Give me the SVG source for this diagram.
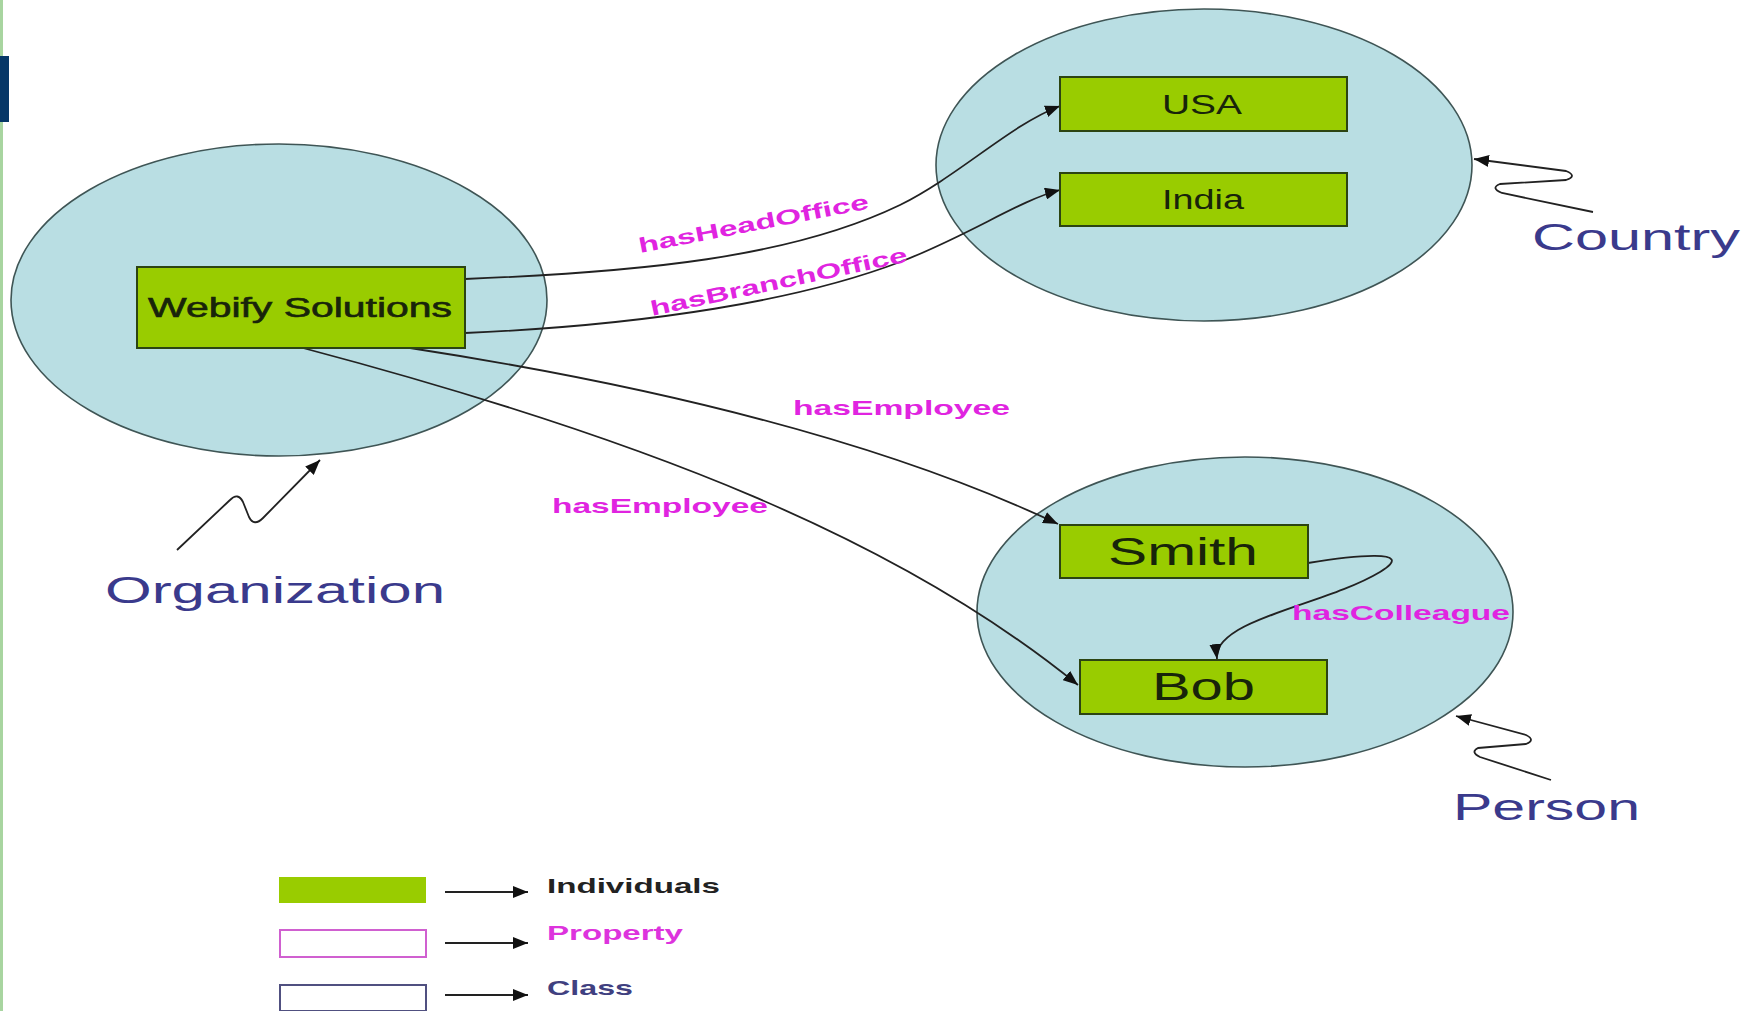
<svg xmlns="http://www.w3.org/2000/svg" width="1750" height="1011" viewBox="0 0 1750 1011">
<defs>
<style>
.cls{fill:#b9dee3;stroke:#3f5555;stroke-width:1.6}
.ind{fill:#99cc00;stroke:#2c4412;stroke-width:2}
.indt{font-family:"Liberation Sans",Arial,sans-serif;fill:#18240a}
.clst{font-family:"Liberation Sans",Arial,sans-serif;fill:#3a3a8c}
.prop{font-family:"Liberation Sans",Arial,sans-serif;font-weight:bold;font-size:21px;fill:#e024e0}
.edge{fill:none;stroke:#222;stroke-width:1.8}
.sq{fill:none;stroke:#222;stroke-width:1.8}
</style>
<marker id="ah" markerUnits="userSpaceOnUse" markerWidth="16" markerHeight="12" refX="15" refY="6" orient="auto">
<path d="M0,0 L15,6 L0,12 Z" fill="#111"/>
</marker>
</defs>
<rect x="0" y="0" width="1750" height="1011" fill="#ffffff"/>
<rect x="0" y="0" width="3" height="1011" fill="#a8d5a0"/>
<rect x="0" y="56" width="9" height="66" fill="#063767"/>

<g id="organization">
<ellipse class="cls" cx="279" cy="300" rx="268" ry="156"/>
<path class="sq" d="M177,550 L230,500 Q238,492 243,502 L249,517 Q254,527 263,518 L320,460" marker-end="url(#ah)"/>
<text class="clst" x="105" y="603" font-size="36" textLength="340" lengthAdjust="spacingAndGlyphs">Organization</text>
</g>

<g id="country">
<ellipse class="cls" cx="1204" cy="165" rx="268" ry="156"/>
<path class="sq" d="M1593,212 L1502,193 Q1490,188 1500,184 L1566,180 Q1578,176 1566,171 L1474,159" marker-end="url(#ah)"/>
<text class="clst" x="1532" y="250" font-size="37" textLength="208" lengthAdjust="spacingAndGlyphs">Country</text>
</g>

<g id="person">
<ellipse class="cls" cx="1245" cy="612" rx="268" ry="155"/>
<path class="sq" d="M1551,780 L1480,757 Q1470,752 1478,748 L1526,744 Q1536,740 1526,735 L1456,716" marker-end="url(#ah)"/>
<text class="clst" x="1453" y="820" font-size="37" textLength="187" lengthAdjust="spacingAndGlyphs">Person</text>
</g>

<g id="connectors">
<path class="edge" d="M465,279 C640,272 790,258 900,205 C960,175 1010,125 1060,106" marker-end="url(#ah)"/>
<path class="edge" d="M465,333 C650,325 800,300 900,262 C970,235 1020,200 1060,190" marker-end="url(#ah)"/>
<path class="edge" d="M410,348 C650,385 880,440 1058,524" marker-end="url(#ah)"/>
<path class="edge" d="M303,348 C650,440 900,540 1078,685" marker-end="url(#ah)"/>
<path class="edge" d="M1308,563 C1350,556 1420,548 1380,572 C1340,596 1272,610 1238,630 C1220,641 1216,650 1217,659" marker-end="url(#ah)"/>
<text class="prop" transform="translate(640,253) rotate(-11)" x="0" y="0" textLength="234" lengthAdjust="spacingAndGlyphs">hasHeadOffice</text>
<text class="prop" transform="translate(652,316) rotate(-12)" x="0" y="0" textLength="262" lengthAdjust="spacingAndGlyphs">hasBranchOffice</text>
<text class="prop" x="793" y="415" textLength="217" lengthAdjust="spacingAndGlyphs">hasEmployee</text>
<text class="prop" x="552" y="513" textLength="216" lengthAdjust="spacingAndGlyphs">hasEmployee</text>
<text class="prop" x="1292" y="620" textLength="218" lengthAdjust="spacingAndGlyphs">hasColleague</text>
</g>

<g id="webify">
<rect class="ind" x="137" y="267" width="328" height="81"/>
<text class="indt" x="148" y="317" font-size="27" textLength="304" lengthAdjust="spacingAndGlyphs" stroke="#18240a" stroke-width="0.6">Webify Solutions</text>
</g>
<g id="usa">
<rect class="ind" x="1060" y="77" width="287" height="54"/>
<text class="indt" x="1162" y="114" font-size="28" textLength="80" lengthAdjust="spacingAndGlyphs">USA</text>
</g>
<g id="india">
<rect class="ind" x="1060" y="173" width="287" height="53"/>
<text class="indt" x="1162" y="209" font-size="27" textLength="82" lengthAdjust="spacingAndGlyphs">India</text>
</g>
<g id="smith">
<rect class="ind" x="1060" y="525" width="248" height="53"/>
<text class="indt" x="1108" y="565" font-size="39" textLength="150" lengthAdjust="spacingAndGlyphs">Smith</text>
</g>
<g id="bob">
<rect class="ind" x="1080" y="660" width="247" height="54"/>
<text class="indt" x="1152" y="700" font-size="39" textLength="103" lengthAdjust="spacingAndGlyphs">Bob</text>
</g>

<g id="legend">
<rect x="279" y="877" width="147" height="26" fill="#99cc00"/>
<rect x="280" y="930" width="146" height="27" fill="#ffffff" stroke="#d060d0" stroke-width="2"/>
<rect x="280" y="985" width="146" height="26" fill="#ffffff" stroke="#505080" stroke-width="2"/>
<path class="edge" d="M445,892 L528,892" marker-end="url(#ah)"/>
<path class="edge" d="M445,943 L528,943" marker-end="url(#ah)"/>
<path class="edge" d="M445,995 L528,995" marker-end="url(#ah)"/>
<text x="547" y="893" font-family="Liberation Sans, Arial, sans-serif" font-weight="bold" font-size="21" fill="#222" textLength="173" lengthAdjust="spacingAndGlyphs">Individuals</text>
<text x="547" y="940" font-family="Liberation Sans, Arial, sans-serif" font-weight="bold" font-size="21" fill="#dd33dd" textLength="136" lengthAdjust="spacingAndGlyphs">Property</text>
<text x="547" y="995" font-family="Liberation Sans, Arial, sans-serif" font-weight="bold" font-size="21" fill="#404080" textLength="86" lengthAdjust="spacingAndGlyphs">Class</text>
</g>
</svg>
